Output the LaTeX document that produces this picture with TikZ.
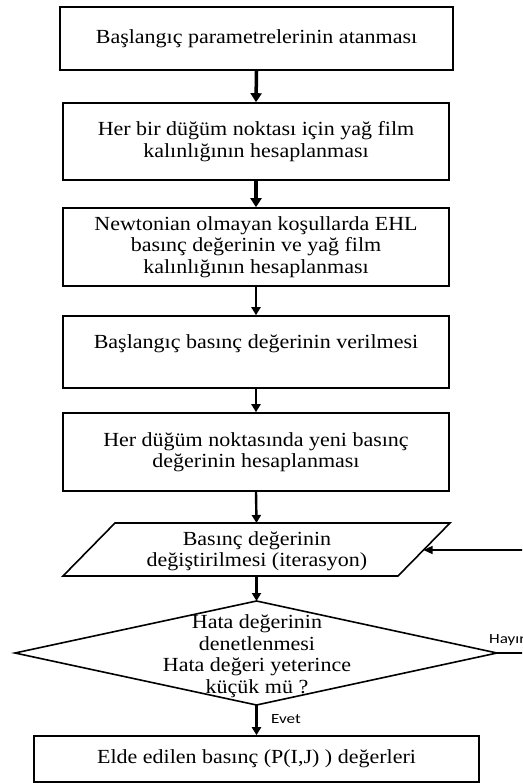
\documentclass[tikz,border=0pt]{standalone}
\usepackage{fontspec}
\setmainfont[FakeStretch=1.1]{Liberation Serif}
\newfontfamily\lblfont[FakeStretch=1.22]{Carlito}
\usetikzlibrary{arrows.meta}
\begin{document}
\begin{tikzpicture}[x=1pt,y=-1pt,
  every node/.style={font=\fontsize{20}{21.5}\selectfont, align=center, inner sep=0pt},
  procbox/.style={draw, line width=1.6pt, minimum width=386pt},
  thickarrow/.style={line width=3.5pt, -{Triangle[width=11pt,length=9pt]}},
  thinarrow/.style={line width=2.4pt, -{Triangle[width=9pt,length=8pt]}},
  backarrow/.style={line width=1.4pt, -{Triangle[width=8pt,length=9pt]}},
  shapeline/.style={line width=1.6pt, line join=miter},
  lbl/.style={font=\lblfont\fontsize{14}{16}\selectfont}]
\useasboundingbox (0,0) rectangle (522,783);
\clip (0,0) rectangle (522,783);
\fill[white] (0,0) rectangle (522,783);

\node[procbox, line width=2pt, minimum width=393pt, minimum height=63pt] (b1) at (256.5,38.5) {Başlangıç parametrelerinin atanması};
\node[procbox, minimum height=77pt] (b2) at (256,141.5) {Her bir düğüm noktası için yağ film\\ kalınlığının hesaplanması};
\node[procbox, minimum height=78pt] (b3) at (256,247) {Newtonian olmayan koşullarda EHL\\ basınç değerinin ve yağ film\\ kalınlığının hesaplanması};
\node[procbox, minimum height=72pt] (b4) at (256,352) {Başlangıç basınç değerinin verilmesi\\ ~};
\node[procbox, minimum height=78pt] (b5) at (256,452) {Her düğüm noktasında yeni basınç\\ değerinin hesaplanması};

% parallelogram
\coordinate (ptl) at (115,523);
\coordinate (ptr) at (450,523);
\coordinate (pbr) at (398,576);
\coordinate (pbl) at (63,576);
\draw[shapeline] (ptl) -- (ptr) -- (pbr) -- (pbl) -- cycle;
\coordinate (ptop) at (256.5,523);
\coordinate (pbot) at (256.5,576);
\coordinate (pin) at (423.5,550);
\node (par) at (257,551) {Basınç değerinin\\ değiştirilmesi (iterasyon)};

% diamond
\coordinate (dtop) at (256.5,601);
\coordinate (dright) at (497,653);
\coordinate (dbot) at (256.5,705);
\coordinate (dleft) at (15,653);
\draw[shapeline] (dtop) -- (dright) -- (dbot) -- (dleft) -- cycle;
\node (dia) at (257,656) {Hata değerinin\\ denetlenmesi\\ Hata değeri yeterince\\ küçük mü ?};

\node[draw, line width=1.6pt, minimum width=445pt, minimum height=46pt] (b6) at (256.5,759) {Elde edilen basınç (P(I,J) ) değerleri};

% connectors
\draw[thickarrow] (b1.south) -- (b2.north);
\draw[thickarrow] (b2.south) -- (b3.north);
\draw[thinarrow] (b3.south) -- (b4.north);
\draw[thinarrow] (b4.south) -- (b5.north);
\draw[thinarrow] (b5.south) -- (ptop);
\draw[thinarrow] (pbot) -- (dtop);
\draw[thinarrow] (dbot) -- (b6.north);
\node[lbl, anchor=base west] (evet) at (271,723) {Evet};
\coordinate (loopcorner) at (530,653);
\draw[backarrow] (dright) -- (loopcorner) |- (pin);
\node[lbl, anchor=base west] (hayir) at (489,643) {Hayır};
\end{tikzpicture}
\end{document}
